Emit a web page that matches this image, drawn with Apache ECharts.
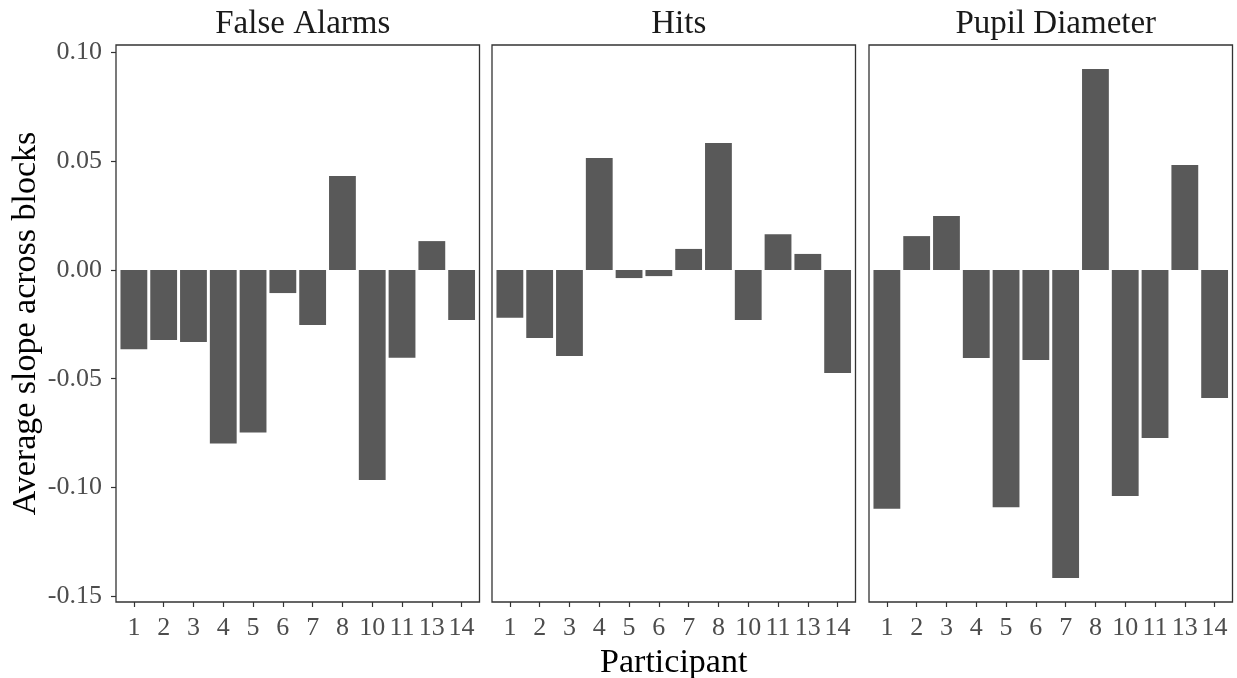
<!DOCTYPE html>
<html>
<head>
<meta charset="utf-8">
<script src="https://cdn.jsdelivr.net/npm/echarts@6/dist/echarts.min.js"></script>
<style>html,body{margin:0;padding:0;background:#fff}#c{width:1237px;height:678px}</style>
</head>
<body>
<div id="c"></div>
<script>
const participants = ['1','2','3','4','5','6','7','8','10','11','13','14'];
const panelTitles = ['False Alarms','Hits','Pupil Diameter'];
const falseAlarms = [-0.0364,-0.0322,-0.0331,-0.0798,-0.0747,-0.0106,-0.0253,0.0433,-0.0966,-0.0403,0.0133,-0.0230];
const hits = [-0.0219,-0.0313,-0.0396,0.0515,-0.0037,-0.0028,0.0097,0.0584,-0.0230,0.0164,0.0074,-0.0474];
const pupilDiameter = [-0.1098,0.0156,0.0249,-0.0405,-0.1091,-0.0414,-0.1417,0.0925,-0.1040,-0.0773,0.0483,-0.0589];
const yTicks = [-0.15,-0.10,-0.05,0.00,0.05,0.10];
const yTitle = 'Average slope across blocks';
const xTitle = 'Participant';

const seriesValues = [falseAlarms, hits, pupilDiameter];
const FONT = 'Liberation Serif';
const gridLefts = [116, 492, 869];
const gridW = 363.5, gridTop = 45, gridH = 557;
const xPos = participants.map((p, i) => i + 1);

const chart = echarts.init(document.getElementById('c'), null, {renderer: 'canvas'});
const option = {
  backgroundColor: '#fff',
  animation: false,
  title: panelTitles.map((t, i) => ({
    text: t,
    left: gridLefts[i] + gridW / 2,
    textAlign: 'center',
    top: 3,
    textStyle: {fontFamily: FONT, fontSize: 33, fontWeight: 'normal', color: '#1a1a1a'}
  })),
  grid: gridLefts.map(l => ({
    left: l, top: gridTop, width: gridW, height: gridH,
    outerBoundsMode: 'none', containLabel: false,
    show: true, borderColor: '#333', borderWidth: 1.3, backgroundColor: '#fff'
  })),
  xAxis: gridLefts.map((l, i) => ({
    type: 'value', gridIndex: i, min: 0.4, max: 12.6,
    axisLine: {show: false, onZero: false},
    splitLine: {show: false},
    axisTick: {show: true, length: 5, lineStyle: {color: '#333', width: 1.2}, customValues: xPos},
    axisLabel: {
      customValues: xPos, margin: 13,
      fontFamily: FONT, fontSize: 26, color: '#4d4d4d',
      formatter: v => participants[Math.round(v) - 1]
    },
    name: i === 1 ? xTitle : '',
    nameLocation: 'middle', nameGap: 42,
    nameTextStyle: {fontFamily: FONT, fontSize: 34, color: '#000'}
  })),
  yAxis: gridLefts.map((l, i) => ({
    type: 'value', gridIndex: i, min: -0.1527, max: 0.1035,
    axisLine: {show: false, onZero: false},
    splitLine: {show: false},
    axisTick: {show: i === 0, length: 5, lineStyle: {color: '#333', width: 1.2}, customValues: yTicks},
    axisLabel: {
      show: i === 0, customValues: yTicks, margin: 14,
      fontFamily: FONT, fontSize: 26, color: '#4d4d4d',
      formatter: v => v.toFixed(2)
    },
    name: i === 0 ? yTitle : '',
    nameLocation: 'middle', nameGap: 73,
    nameTextStyle: {fontFamily: FONT, fontSize: 34, color: '#000'}
  })),
  series: seriesValues.map((vals, i) => ({
    type: 'bar', xAxisIndex: i, yAxisIndex: i,
    barWidth: '90%',
    itemStyle: {color: '#595959'},
    data: vals.map((v, j) => [xPos[j], v])
  }))
};
chart.setOption(option);
</script>
</body>
</html>
